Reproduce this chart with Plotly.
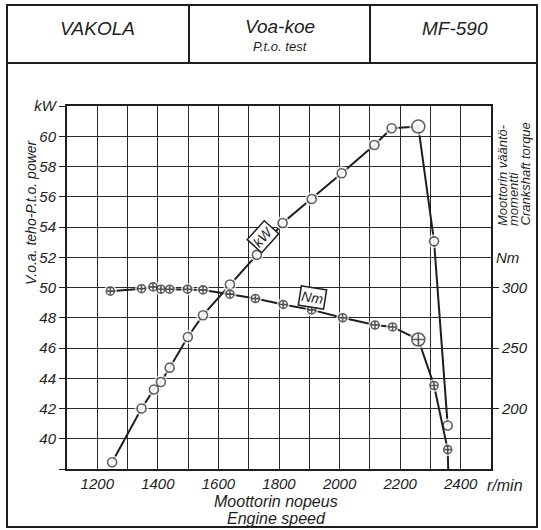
import plotly.graph_objects as go

# ---- data ----
speed_kw = [1249, 1346, 1387, 1410, 1439, 1499, 1549, 1638, 1727, 1812, 1908, 2007, 2115, 2172, 2260, 2312, 2357]
power_kw = [38.45, 42.0, 43.26, 43.75, 44.7, 46.73, 48.17, 50.2, 52.16, 54.26, 55.85, 57.55, 59.42, 60.53, 60.64, 53.05, 40.88]
power_big = [False]*14 + [True] + [False, False]

speed_nm = [1243, 1346, 1384, 1410, 1439, 1498, 1549, 1638, 1722, 1814, 1908, 2010, 2117, 2175, 2260, 2312, 2357, 2362]
torque_nm = [297, 299, 300.5, 298.6, 298.6, 298.6, 298, 294.5, 290.9, 286, 281.5, 275, 269, 267.4, 257, 219, 166, 120]
torque_big = [False]*14 + [True] + [False, False, False]

x_ticks = list(range(1100, 2501, 100))
x_labels = [str(v) if v % 200 == 0 and 1200 <= v <= 2400 else "" for v in x_ticks]
y_ticks = list(range(38, 63, 2))
y_labels = ["" if v == 38 else ("kW" if v == 62 else str(v)) for v in y_ticks]
nm_ticks = [200, 250, 300]

header = ["VAKOLA", "Voa-koe", "MF-590"]
header_sub = "P.t.o. test"
left_title = "V.o.a. teho-P.t.o. power"
right_title = ["Moottorin vääntö-", "momentti", "Crankshaft torque"]
x_title = ["Moottorin nopeus", "Engine speed"]

INK = "#1e1e1e"
FONT = "Liberation Sans, Arial, sans-serif"

W, H = 541, 530
ML, MT = 67, 106
MR = W - 491
MB = H - 469
PW, PH = W - ML - MR, H - MT - MB


def px(x):  # page pixel -> paper
    return (x - ML) / PW


def py(y):
    return (MT + PH - y) / PH


fig = go.Figure()


def add_series(xs, ys, big, symbol, size, bigsize, yaxis):
    sizes = [bigsize if b else size for b in big]
    fig.add_trace(go.Scatter(x=xs, y=ys, mode="lines", yaxis=yaxis,
                             line=dict(color=INK, width=2), hoverinfo="skip", showlegend=False))
    fig.add_trace(go.Scatter(x=xs, y=ys, mode="markers", yaxis=yaxis,
                             marker=dict(symbol="circle", size=[s + 5 for s in sizes], color="white",
                                         line=dict(width=0)),
                             hoverinfo="skip", showlegend=False))
    fig.add_trace(go.Scatter(x=xs, y=ys, mode="markers", yaxis=yaxis,
                             marker=dict(symbol=symbol, size=sizes, color="white",
                                         line=dict(color=INK, width=1.6)),
                             showlegend=False))


add_series(speed_kw, power_kw, power_big, "circle", 9, 13, "y")
add_series(speed_nm, torque_nm, torque_big, "circle-cross", 8, 13, "y2")

fig.update_layout(
    width=W, height=H,
    margin=dict(l=ML, r=MR, t=MT, b=MB, pad=0),
    paper_bgcolor="white", plot_bgcolor="white",
    font=dict(family=FONT, size=14, color=INK, style="italic"),
    xaxis=dict(range=[1100, 2500], tickvals=x_ticks, ticktext=x_labels, ticks="",
               showgrid=True, gridcolor="#2a2a2a", gridwidth=1.3, zeroline=False,
               showline=True, mirror=True, linecolor=INK, linewidth=2,
               tickfont=dict(size=15, style="italic")),
    yaxis=dict(range=[38, 62], tickvals=y_ticks, ticktext=y_labels, ticks="outside",
               ticklen=6, tickcolor=INK, tickwidth=1.2,
               showgrid=True, gridcolor="#2a2a2a", gridwidth=1.3, zeroline=False,
               showline=True, mirror=True, linecolor=INK, linewidth=2,
               tickfont=dict(size=15, style="italic")),
    yaxis2=dict(range=[150, 450], overlaying="y", side="right", tickvals=nm_ticks,
                ticks="outside", ticklen=6, tickcolor=INK, tickwidth=1.2,
                showgrid=False, zeroline=False, showline=True, linecolor=INK, linewidth=2,
                tickfont=dict(size=15, style="italic")),
)

C = dict(xanchor="center", yanchor="middle", showarrow=False)
ann = []
# series labels
ann.append(dict(x=1747, y=53.4, xref="x", yref="y", text="kW", textangle=-48,
                font=dict(size=14), bgcolor="white", bordercolor=INK, borderwidth=1.5, borderpad=1, **C))
ann.append(dict(x=1912, y=49.36, xref="x", yref="y", text="Nm", textangle=9,
                font=dict(size=14), bgcolor="white", bordercolor=INK, borderwidth=1.5, borderpad=1, **C))
# axis unit labels
ann.append(dict(x=px(508), y=py(257), xref="paper", yref="paper", text="Nm", font=dict(size=15), **C))
ann.append(dict(x=px(505), y=py(486), xref="paper", yref="paper", text="r/min", font=dict(size=16), **C))
# axis titles
ann.append(dict(x=px(276), y=py(501), xref="paper", yref="paper", text=x_title[0], font=dict(size=16), **C))
ann.append(dict(x=px(276), y=py(518), xref="paper", yref="paper", text=x_title[1], font=dict(size=16), **C))
ann.append(dict(x=px(31), y=py(212), xref="paper", yref="paper", text=left_title,
                textangle=-90, font=dict(size=14), **C))
for i, line in enumerate(right_title):
    ann.append(dict(x=px(502 + 11.5 * i), y=py(228), xref="paper", yref="paper", text=line,
                    textangle=-90, xanchor="center", yanchor="bottom", showarrow=False,
                    font=dict(size=13)))
# header
ann.append(dict(x=px(97), y=py(29), xref="paper", yref="paper", text=header[0], font=dict(size=19), **C))
ann.append(dict(x=px(280), y=py(26), xref="paper", yref="paper", text=header[1], font=dict(size=19), **C))
ann.append(dict(x=px(280), y=py(46), xref="paper", yref="paper", text=header_sub, font=dict(size=13), **C))
ann.append(dict(x=px(455), y=py(29), xref="paper", yref="paper", text=header[2], font=dict(size=19), **C))
fig.update_layout(annotations=ann)

shapes = []
# outer frame
shapes.append(dict(type="rect", xref="paper", yref="paper", x0=px(7), x1=px(537), y0=py(527), y1=py(5),
                   line=dict(color=INK, width=2)))
shapes.append(dict(type="line", xref="paper", yref="paper", x0=px(7), x1=px(537), y0=py(63), y1=py(63),
                   line=dict(color=INK, width=2)))
for xv in (189, 370):
    shapes.append(dict(type="line", xref="paper", yref="paper", x0=px(xv), x1=px(xv), y0=py(5), y1=py(63),
                       line=dict(color=INK, width=2)))
fig.update_layout(shapes=shapes)

fig.write_html("out.html", config={"displayModeBar": False},
               post_script="document.body.style.margin='0';document.body.style.overflow='hidden';")
